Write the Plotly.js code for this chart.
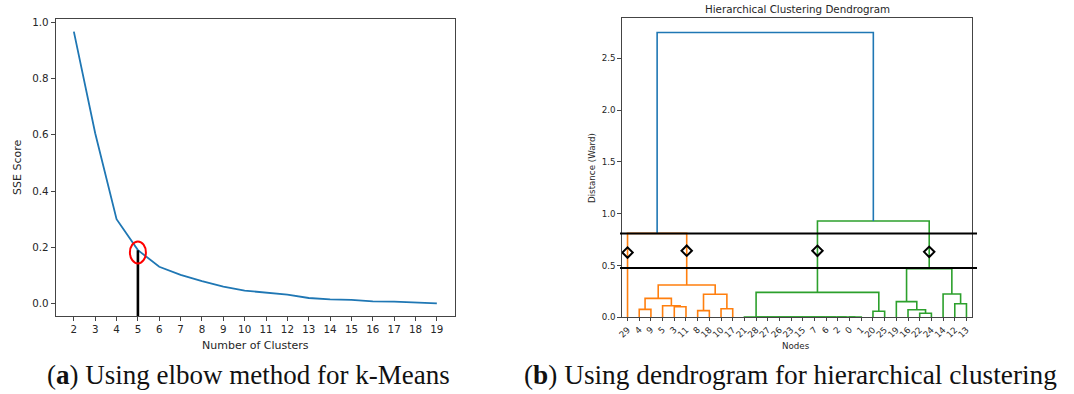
<!DOCTYPE html>
<html><head><meta charset="utf-8">
<script src="https://cdn.plot.ly/plotly-3.0.1.min.js"></script>
<style>html,body{margin:0;padding:0;background:#fff}#chart{width:1074px;height:394px}</style>
</head><body><div id="chart"></div>
<script>
// ---------- (a) elbow method ----------
const clusterCounts = [2,3,4,5,6,7,8,9,10,11,12,13,14,15,16,17,18,19];
const sseScores = [0.966,0.605,0.300,0.190,0.131,0.102,0.080,0.060,0.046,0.038,0.032,0.020,0.015,0.013,0.008,0.007,0.0035,0.001];
const elbowK = 5;
const sseTicks = [0,0.2,0.4,0.6,0.8,1.0];

// ---------- (b) dendrogram ----------
const leafOrder = [29,4,9,5,3,11,8,18,10,17,21,28,27,26,23,15,7,6,2,0,1,20,25,19,16,22,24,14,12,13];
// scipy-style linkage: ids < 30 are leaves, id 30+k is link k
const linkLeft   = [0,2,6,7,15,23,26,27,28,21,22,20,8,16,4,10,3,5,12,19,44,42,14,39,50,49,29,53,56];
const linkRight  = [1,30,31,32,33,34,35,36,37,38,24,25,18,40,9,17,11,46,13,43,47,45,48,41,51,52,54,55,57];
const linkHeight = [0.003,0.003,0.003,0.003,0.003,0.003,0.003,0.003,0.003,0.003,
                    0.039,0.058,0.064,0.073,0.077,0.083,0.102,0.112,0.131,0.151,
                    0.183,0.222,0.225,0.241,0.312,0.470,0.810,0.930,2.750];
const cutHeights = [0.810, 0.476];
const diamondHeights = [0.625, 0.643, 0.642, 0.632];
const distTicks = [0,0.5,1.0,1.5,2.0,2.5];

const W = 1074, H = 394;
const px = v => v / W, py = v => 1 - v / H;
const FONT = 'DejaVu Sans';

// dendrogram geometry through data
const nLeaves = leafOrder.length;
const nodeX = [], nodeH = [];
leafOrder.forEach((lab, i) => { nodeX[lab] = 5 + 10 * i; nodeH[lab] = 0; });
linkHeight.forEach((h, k) => {
  const id = nLeaves + k;
  nodeX[id] = (nodeX[linkLeft[k]] + nodeX[linkRight[k]]) / 2;
  nodeH[id] = h;
});
const maxH = Math.max(...linkHeight);
const thr = 0.7 * maxH;
const palette = ['#ff7f0e', '#2ca02c', '#d62728', '#9467bd'];
const aboveColor = '#1f77b4';
const linkColor = [];
let ci = 0;
function assign(node, color) {
  if (node < nLeaves) return;
  const k = node - nLeaves;
  let c = color;
  if (!c && linkHeight[k] <= thr) c = palette[ci++];
  linkColor[k] = c || aboveColor;
  assign(linkLeft[k], c);
  assign(linkRight[k], c);
}
assign(nLeaves + linkHeight.length - 1, null);

const segs = {};
linkHeight.forEach((h, k) => {
  const a = linkLeft[k], b = linkRight[k];
  const col = linkColor[k];
  if (!segs[col]) segs[col] = {x: [], y: []};
  segs[col].x.push(nodeX[a], nodeX[a], nodeX[b], nodeX[b], null);
  segs[col].y.push(nodeH[a], h, h, nodeH[b], null);
});

const cutMid = (cutHeights[0] + cutHeights[1]) / 2;
const diamondX = [];
linkHeight.forEach((h, k) => {
  if (h > cutMid) {
    [linkLeft[k], linkRight[k]].forEach(c => { if (nodeH[c] < cutMid) diamondX.push(nodeX[c]); });
  }
});
diamondX.sort((a, b) => a - b);

const traces = [];
traces.push({
  x: clusterCounts, y: sseScores, xaxis: 'x', yaxis: 'y', mode: 'lines',
  line: {color: '#1f77b4', width: 1.8}, hoverinfo: 'skip', showlegend: false
});
Object.keys(segs).forEach(col => {
  traces.push({
    x: segs[col].x, y: segs[col].y, xaxis: 'x2', yaxis: 'y2', mode: 'lines',
    line: {color: col, width: 1.6}, hoverinfo: 'skip', showlegend: false
  });
});
traces.push({
  x: diamondX, y: diamondHeights, xaxis: 'x2', yaxis: 'y2', mode: 'markers',
  marker: {symbol: 'diamond-open', size: 8, color: 'black', line: {color: 'black', width: 2}},
  hoverinfo: 'skip', showlegend: false
});

const yRangeA = [-0.044, 1.011];
const axisCommon = {
  showline: true, mirror: true, linecolor: '#444', linewidth: 1,
  showgrid: false, zeroline: false, ticks: 'outside', tickcolor: '#444'
};

const layout = {
  width: W, height: H, margin: {l: 0, r: 0, t: 0, b: 0},
  paper_bgcolor: '#fff', plot_bgcolor: '#fff', showlegend: false,
  font: {family: FONT, color: '#262626'},
  xaxis: Object.assign({}, axisCommon, {
    domain: [px(55.7), px(455)], range: [1.15, 19.85], anchor: 'y',
    tickmode: 'array', tickvals: clusterCounts, ticklen: 4,
    tickfont: {family: FONT, size: 10.3, color: '#262626'}
  }),
  yaxis: Object.assign({}, axisCommon, {
    domain: [1 - 316 / H, 1 - 19 / H], range: yRangeA, anchor: 'x',
    tickmode: 'array', tickvals: sseTicks, tickformat: '.1f', ticklen: 4,
    tickfont: {family: FONT, size: 10.3, color: '#262626'}
  }),
  xaxis2: Object.assign({}, axisCommon, {
    domain: [px(621.7), px(972.3)], range: [0, 10 * nLeaves], anchor: 'y2',
    tickmode: 'array', tickvals: leafOrder.map((l, i) => 5 + 10 * i),
    ticktext: leafOrder.map(String), tickangle: -45, ticklen: 3,
    tickfont: {family: FONT, size: 8.7, color: '#262626'}
  }),
  yaxis2: Object.assign({}, axisCommon, {
    domain: [1 - 317.3 / H, 1 - 18.3 / H], range: [0, 1.05 * maxH], anchor: 'x2',
    tickmode: 'array', tickvals: distTicks, tickformat: '.1f', ticklen: 3.5,
    tickfont: {family: FONT, size: 8.7, color: '#262626'}
  }),
  shapes: [
    {type: 'line', xref: 'x', yref: 'y', x0: elbowK, x1: elbowK,
     y0: yRangeA[0], y1: sseScores[clusterCounts.indexOf(elbowK)],
     line: {color: 'black', width: 2.6}},
    {type: 'circle', xref: 'x', yref: 'y', xsizemode: 'pixel', ysizemode: 'pixel',
     xanchor: elbowK, yanchor: sseScores[clusterCounts.indexOf(elbowK)] - 0.008,
     x0: -8, x1: 8, y0: -11, y1: 11, line: {color: '#ff0000', width: 2}},
  ].concat(cutHeights.map(h => ({
    type: 'line', xref: 'paper', yref: 'y2', x0: px(620), x1: px(977), y0: h, y1: h,
    line: {color: 'black', width: 2}
  }))),
  annotations: [
    {text: 'SSE Score', xref: 'paper', yref: 'paper', x: px(18), y: py(168), textangle: -90,
     showarrow: false, xanchor: 'center', yanchor: 'middle', font: {family: FONT, size: 11, color: '#262626'}},
    {text: 'Number of Clusters', xref: 'paper', yref: 'paper', x: px(255), y: py(345),
     showarrow: false, xanchor: 'center', yanchor: 'middle', font: {family: FONT, size: 11, color: '#262626'}},
    {text: 'Hierarchical Clustering Dendrogram', xref: 'paper', yref: 'paper', x: px(797), y: py(9),
     showarrow: false, xanchor: 'center', yanchor: 'middle', font: {family: FONT, size: 10.3, color: '#262626'}},
    {text: 'Distance (Ward)', xref: 'paper', yref: 'paper', x: px(592), y: py(168), textangle: -90,
     showarrow: false, xanchor: 'center', yanchor: 'middle', font: {family: FONT, size: 8.7, color: '#262626'}},
    {text: 'Nodes', xref: 'paper', yref: 'paper', x: px(796), y: py(346),
     showarrow: false, xanchor: 'center', yanchor: 'middle', font: {family: FONT, size: 8.7, color: '#262626'}},
    {text: '(<b>a</b>) Using elbow method for k-Means', xref: 'paper', yref: 'paper', x: px(248.5), y: py(375),
     showarrow: false, xanchor: 'center', yanchor: 'middle', font: {family: 'Liberation Serif', size: 27, color: '#111'}},
    {text: '(<b>b</b>) Using dendrogram for hierarchical clustering', xref: 'paper', yref: 'paper', x: px(790.5), y: py(375),
     showarrow: false, xanchor: 'center', yanchor: 'middle', font: {family: 'Liberation Serif', size: 27.3, color: '#111'}}
  ]
};

Plotly.newPlot('chart', traces, layout, {staticPlot: true, displayModeBar: false});
</script>
</body></html>
